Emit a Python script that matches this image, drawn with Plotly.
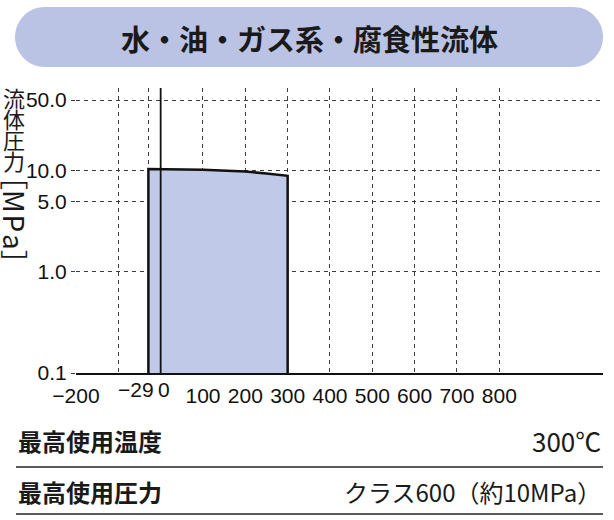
import plotly.graph_objects as go

# ---- data ----
title_text = "水・油・ガス系・腐食性流体"
y_title_chars = ["流", "体", "圧", "力"]
y_title_unit = "［M\u200aP\u200aa］"

env_temp_c = [-29, 100, 200, 250, 300]        # envelope top (temperature, °C)
env_press_mpa = [10.4, 10.2, 9.8, 9.4, 8.9]   # pressure (MPa)
base_press = 0.1

x_tickvals = [-200, -100, -29, 0, 100, 200, 300, 400, 500, 600, 700, 800]
x_ticktext = ["−200", "", "", "", "100", "200", "300", "400", "500", "600", "700", "800"]
x_extra_labels = [(-29, "−29", -12), (0, "0", 3)]
y_tickvals = [0.1, 1, 5, 10, 50]
y_ticktext = ["0.1", "1.0", "5.0", "10.0", "50.0"]

rows = [("最高使用温度", "300℃"), ("最高使用圧力", "クラス600（約10MPa）")]

# ---- layout geometry ----
W, H = 614, 520
L, R, T, B = 76, 11, 88, 147
PW, PH = W - L - R, H - T - B

def px(x):
    return (x - L) / PW

def py(y):
    return (H - B - y) / PH

CJK = "Noto Sans CJK JP"
NUM = "Liberation Sans, Arial, sans-serif"
NUM_SIZE = 21

fig = go.Figure()

poly_x = [env_temp_c[0]] + env_temp_c + [env_temp_c[-1]]
poly_y = [base_press] + env_press_mpa + [base_press]
fig.add_trace(go.Scatter(
    x=poly_x, y=poly_y, mode="lines", fill="toself",
    fillcolor="#c1c9e8", line=dict(color="#111111", width=2.5),
    hoverinfo="skip", showlegend=False))

fig.add_vline(x=0, line=dict(color="#111111", width=1.8))

grid = dict(showgrid=True, gridcolor="#3c3c3c", gridwidth=1.4, griddash="4px,4px")

fig.update_xaxes(
    type="linear", range=[-200, 1045], tickmode="array",
    tickvals=x_tickvals, ticktext=x_ticktext,
    tickfont=dict(family=NUM, size=NUM_SIZE, color="#111111"),
    ticks="", ticklabelstandoff=3,
    showline=True, linecolor="#111111", linewidth=2, zeroline=False, **grid)
fig.update_yaxes(
    type="log", range=[-1, 1.818], tickmode="array",
    tickvals=y_tickvals, ticktext=y_ticktext,
    tickfont=dict(family=NUM, size=NUM_SIZE, color="#111111"),
    ticks="outside", ticklen=4, tickcolor="#3c3c3c", tickwidth=1.4,
    ticklabelstandoff=0,
    showline=False, zeroline=False, **grid)

for xv, txt, sh in x_extra_labels:
    fig.add_annotation(x=xv, y=0, xref="x", yref="paper", text=txt, showarrow=False,
                       yanchor="top", xanchor="center", xshift=sh, yshift=-3,
                       font=dict(family=NUM, size=NUM_SIZE, color="#111111"))

# title pill
x0, x1, y0, y1 = 15, 603, 7, 67
rr = (y1 - y0) / 2
k = 0.5523 * rr
cy = (y0 + y1) / 2
pts = [
    ("M", [(x0 + rr, y0)]),
    ("L", [(x1 - rr, y0)]),
    ("C", [(x1 - rr + k, y0), (x1, cy - k), (x1, cy)]),
    ("C", [(x1, cy + k), (x1 - rr + k, y1), (x1 - rr, y1)]),
    ("L", [(x0 + rr, y1)]),
    ("C", [(x0 + rr - k, y1), (x0, cy + k), (x0, cy)]),
    ("C", [(x0, cy - k), (x0 + rr - k, y0), (x0 + rr, y0)]),
]
path = ""
for cmd, ps in pts:
    path += cmd + " " + " ".join(f"{px(a):.5f},{py(b):.5f}" for a, b in ps) + " "
path += "Z"
fig.add_shape(type="path", path=path, xref="paper", yref="paper",
              fillcolor="#bac3e4", line=dict(width=0), layer="below")

fig.add_annotation(x=px(309), y=py(38), xref="paper", yref="paper", text=title_text,
                   showarrow=False, xanchor="center", yanchor="middle",
                   font=dict(family=CJK, size=29, color="#1a1a1a", weight="bold"))

# y-axis title: upright CJK characters stacked, unit rotated
for i, ch in enumerate(y_title_chars):
    fig.add_annotation(x=px(14), y=py(97 + i * 21), xref="paper", yref="paper", text=ch,
                       showarrow=False, xanchor="center", yanchor="middle",
                       font=dict(family=CJK, size=22, color="#1a1a1a"))
fig.add_annotation(x=px(15), y=py(220), xref="paper", yref="paper", text=y_title_unit,
                   showarrow=False, xanchor="center", yanchor="middle", textangle=90,
                   font=dict(family=CJK, size=28, color="#1a1a1a"))

# bottom table rows
row_y = [440, 491]
line_y = [467, 514]
for (lab, val), ty, ly in zip(rows, row_y, line_y):
    fig.add_annotation(x=px(16), y=py(ty), xref="paper", yref="paper", text=lab,
                       showarrow=False, xanchor="left", yanchor="middle",
                       font=dict(family=CJK, size=24, color="#1a1a1a", weight="bold"))
    fig.add_annotation(x=px(603), y=py(ty), xref="paper", yref="paper", text=val,
                       showarrow=False, xanchor="right", yanchor="middle",
                       font=dict(family=CJK, size=26 if val.endswith("℃") else 24,
                                 color="#1a1a1a"))
    fig.add_shape(type="line", xref="paper", yref="paper",
                  x0=px(16), x1=px(603), y0=py(ly), y1=py(ly),
                  line=dict(color="#5a5a5a", width=2))

fig.update_layout(
    width=W, height=H, margin=dict(l=L, r=R, t=T, b=B, autoexpand=False),
    paper_bgcolor="white", plot_bgcolor="white", showlegend=False)

fig.write_html("out.html", config={"displayModeBar": False},
               post_script="document.body.style.margin='0';")
